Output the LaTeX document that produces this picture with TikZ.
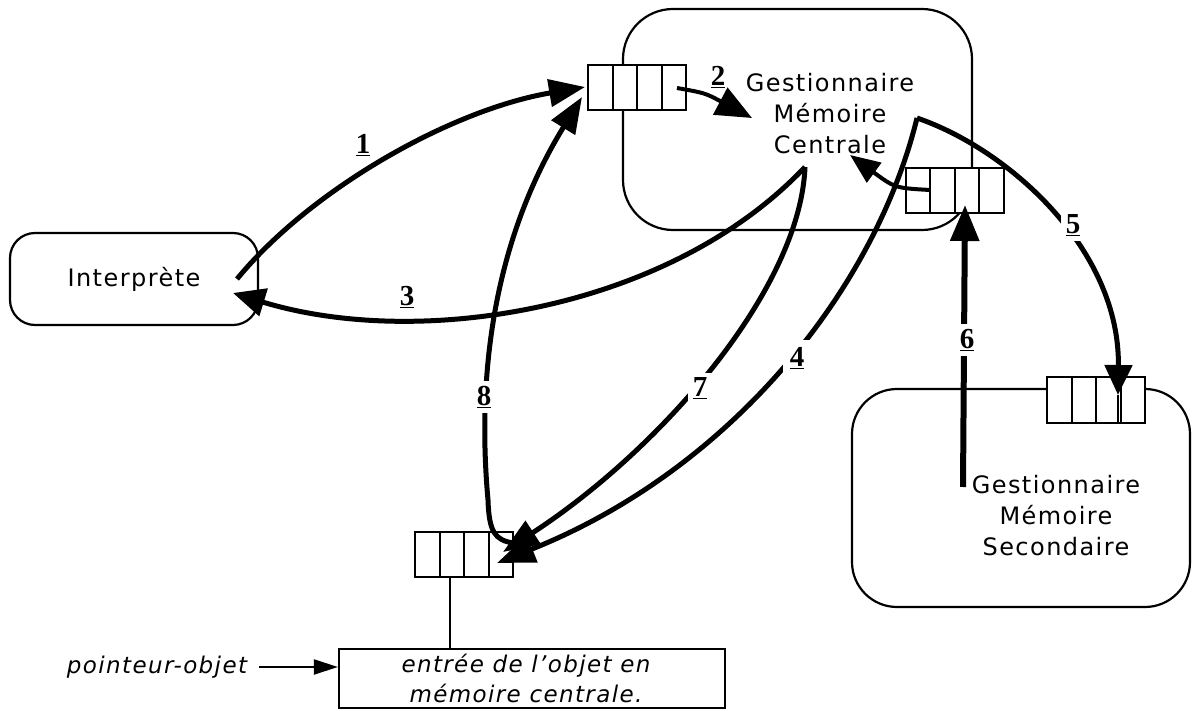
\documentclass[tikz,border=0pt]{standalone}
\usepackage{fontspec}
\setmainfont{DejaVu Sans}[LetterSpace=6]
\newfontfamily\labfont{Liberation Serif}
\usetikzlibrary{arrows.meta,calc}
\begin{document}
\begin{tikzpicture}[x=1pt,y=-1pt,
  mbox/.style={draw, line width=2.2pt, rounded corners=#1, inner sep=0pt},
  queue/.style={draw, fill=white, line width=2pt, minimum width=98pt, minimum height=45pt, inner sep=0pt,
    path picture={\foreach \f in {0.25,0.5,0.75}{\draw[line width=2pt]
      ($(path picture bounding box.south west)!\f!(path picture bounding box.south east)$) --
      ($(path picture bounding box.north west)!\f!(path picture bounding box.north east)$);}}},
  txt/.style={font=\fontsize{24}{31}\selectfont, align=center, inner sep=0pt},
  itxt/.style={font=\itshape\fontsize{23}{30}\selectfont, align=center, inner sep=0pt},
  lab/.style={font=\labfont\bfseries\fontsize{29}{29}\selectfont, fill=white, inner sep=#1},
  lab/.default=5pt,
  big/.style={line width=5pt, -{Triangle[length=36pt,width=27pt]}},
  thinl/.style={line width=2pt}]
\useasboundingbox (0,0) rectangle (1192,711);
\fill[white] (0,0) rectangle (1192,711);
% boxes
\node[mbox=50pt, minimum width=349pt, minimum height=221pt] (gmc) at (797.5,119.5) {};
\node[mbox=45pt, minimum width=338pt, minimum height=218pt] (gms) at (1021,498) {};
\node[mbox=25pt, minimum width=248pt, minimum height=92pt, txt] (interp) at (134,279) {Interprète};
\node[draw, line width=2.2pt, minimum width=386pt, minimum height=59pt] (entry) at (532,678.5) {};
% texts
\node[txt] (gmcT) at (830,114) {Gestionnaire\\Mémoire\\Centrale};
\node[txt] (gmsT) at (1056,516) {Gestionnaire\\Mémoire\\Secondaire};
\node[itxt] (entryT) at (526,678) {entrée de l'objet en\\mémoire centrale.};
\node[itxt] (ptr) at (157,667) {pointeur-objet};
% queues
\node[queue] (q1) at (637,87.5) {};
\node[queue] (q2) at (954.5,190.5) {};
\node[queue] (q3) at (1096,400) {};
\node[queue] (q4) at (464,554.5) {};
% coordinates
\coordinate (a1s) at (237,279);
\coordinate (a1e) at (585,87);
\coordinate (a2s) at (677,88);
\coordinate (a2e) at (752,118);
\coordinate (gv) at (805,167);
\coordinate (a3e) at (233,293);
\coordinate (a7e) at (503,552);
\coordinate (gx) at (917,118);
\coordinate (a4e) at (497,563);
\coordinate (a5e) at (1118,395);
\coordinate (a6s) at (963,487);
\coordinate (a6e) at (965,205);
\coordinate (a8s) at (513,543);
\coordinate (a8m) at (488,500);
\coordinate (a8e) at (582,97);
\coordinate (aqs) at (930,190);
\coordinate (aqe) at (850,155);
\coordinate (q4l) at (450,577);
% connectors
\draw[thinl] (q4l) -- (q4l |- entry.north);
\draw[thinl, -{Triangle[length=24pt,width=15pt]}] (ptr.east) ++(12,0) -- (ptr.east -| entry.west);
\draw[big] (a1s) .. controls (310,190) and (450,110) .. (a1e);
\draw[line width=4pt, -{Triangle[length=36pt,width=30pt]}] (a2s) .. controls (705,93) .. (a2e);
\draw[big, -{Triangle[length=32pt,width=28pt]}] (gv) .. controls (670,310) and (420,350) .. (a3e);
\draw[big] (gv) .. controls (800,290) and (660,450) .. (a7e);
\draw[big, -{Triangle[length=38pt,width=28pt]}] (gx) .. controls (875,290) and (730,470) .. (a4e);
\draw[big, -{Triangle[length=30pt,width=27pt]}] (gx) .. controls (1010,150) and (1120,250) .. (a5e);
\draw[thinl] (a5e) -- (a5e |- q3.south);
\draw[line width=6pt, -{Triangle[length=36pt,width=28pt]}] (a6s) -- (a6e);
\draw[big] (a8s) .. controls (495,540) and (489,532) .. (a8m) .. controls (478,390) and (488,250) .. (a8e);
\draw[line width=4pt, -{Triangle[length=30pt,width=24pt]}] (aqs) .. controls (895,188) .. (aqe);
% labels
\node[lab=1pt] (l1) at (363,145) {\underline{1}};
\node[lab=1pt] (l2) at (718,77) {\underline{2}};
\node[lab=1pt] (l3) at (407,297) {\underline{3}};
\node[lab=7pt] (l4) at (797,358) {\underline{4}};
\node[lab] (l5) at (1073,225) {\underline{5}};
\node[lab] (l6) at (967,340) {\underline{6}};
\node[lab] (l7) at (700,388) {\underline{7}};
\node[lab] (l8) at (484,397) {\underline{8}};
\end{tikzpicture}
\end{document}
